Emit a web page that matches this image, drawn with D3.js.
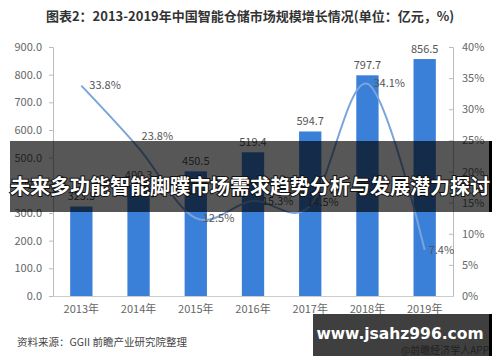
<!DOCTYPE html>
<html>
<head>
<meta charset="utf-8">
<script src="https://cdn.jsdelivr.net/npm/d3@7"></script>
<style>
  body { margin: 0; background: #fff; }
  svg { display: block; font-family: "Noto Sans CJK SC", "Microsoft YaHei", sans-serif; }
</style>
</head>
<body>
<svg id="chart" width="500" height="362"></svg>
<script>
const years = ["2013年", "2014年", "2015年", "2016年", "2017年", "2018年", "2019年"];
const marketSize = [323.5, 400.3, 450.5, 519.4, 594.7, 797.7, 856.5];
const growth = [33.8, 23.8, 12.5, 15.3, 14.5, 34.1, 7.4];
const leftTicks = [0, 100, 200, 300, 400, 500, 600, 700, 800, 900];
const rightTicks = [0, 5, 10, 15, 20, 25, 30, 35, 40];

const svg = d3.select("#chart");
const plotLeft = 53, plotRight = 453, plotTop = 47, plotBottom = 296;

// title
svg.append("text")
  .attr("x", 250).attr("y", 21)
  .attr("text-anchor", "middle")
  .attr("font-size", 13).attr("font-weight", "bold")
  .attr("fill", "#333")
  .text("图表2：2013-2019年中国智能仓储市场规模增长情况(单位：亿元，%)");

const x = d3.scaleBand().domain(years).range([plotLeft, plotRight]).paddingInner(0.61).paddingOuter(0.3);
const y = d3.scaleLinear().domain([0, 900]).range([plotBottom, plotTop]);
const y2 = d3.scaleLinear().domain([0, 40]).range([plotBottom, plotTop]);

// axes
const ax = svg.append("g").attr("transform", `translate(${plotLeft},0)`)
  .call(d3.axisLeft(y).tickValues(leftTicks).tickFormat(d3.format(".1f")).tickSize(4).tickPadding(7));
const ax2 = svg.append("g").attr("transform", `translate(${plotRight},0)`)
  .call(d3.axisRight(y2).tickValues(rightTicks).tickFormat(d => d + "%").tickSize(-4).tickPadding(9));
[ax, ax2].forEach(g => {
  g.select(".domain").attr("stroke", "#bbb");
  g.selectAll(".tick line").attr("stroke", "#bbb");
  g.selectAll("text").attr("fill", "#666").attr("font-size", 11)
    .attr("font-family", "\"Noto Sans CJK SC\", sans-serif");
});

const axx = svg.append("g").attr("transform", `translate(0,${plotBottom})`)
  .call(d3.axisBottom(x).tickSize(0).tickPadding(9));
axx.select(".domain").attr("stroke", "#ccc");
axx.selectAll("text").attr("fill", "#666").attr("font-size", 11)
  .attr("font-family", "\"Noto Sans CJK SC\", sans-serif");

// bars
svg.selectAll(".bar")
  .data(marketSize)
  .enter()
  .append("rect")
  .attr("x", (d, i) => x(years[i]))
  .attr("y", d => y(d))
  .attr("width", x.bandwidth())
  .attr("height", d => plotBottom - y(d))
  .attr("fill", "#3b80d8");

svg.selectAll(".barlabel")
  .data(marketSize)
  .enter()
  .append("text")
  .attr("x", (d, i) => x(years[i]) + x.bandwidth() / 2)
  .attr("y", d => y(d) - 6)
  .attr("text-anchor", "middle")
  .attr("font-size", 11).attr("fill", "#555")
  .text(d => d.toFixed(1));

// growth line
const cx = i => x(years[i]) + x.bandwidth() / 2;
const line = d3.line()
  .x((d, i) => cx(i))
  .y(d => y2(d))
  .curve(d3.curveCatmullRom.alpha(0));
svg.append("path")
  .datum(growth)
  .attr("d", line)
  .attr("fill", "none")
  .attr("stroke", "#7aa4dc")
  .attr("stroke-width", 2);

const pctOffset = [[8, 3], [3, -8], [7, 4], [9, 4], [-3, 0], [6, 3], [4, 4]];
svg.selectAll(".pct")
  .data(growth)
  .enter()
  .append("text")
  .attr("x", (d, i) => cx(i) + pctOffset[i][0])
  .attr("y", (d, i) => y2(d) + pctOffset[i][1])
  .attr("font-size", 11).attr("fill", "#555")
  .text(d => d.toFixed(1) + "%");

// source
svg.append("text")
  .attr("x", 17).attr("y", 346)
  .attr("font-size", 10.5).attr("fill", "#444")
  .text("资料来源：GGII 前瞻产业研究院整理");

// overlay banner
svg.append("rect")
  .attr("x", 10).attr("y", 141).attr("width", 482).attr("height", 71)
  .attr("fill", "#000").attr("opacity", 0.66);
svg.append("rect")
  .attr("x", 489).attr("y", 141).attr("width", 3).attr("height", 71)
  .attr("fill", "#000");
svg.append("text")
  .attr("x", 250).attr("y", 194)
  .attr("text-anchor", "middle")
  .attr("font-size", 20).attr("font-weight", "bold")
  .attr("fill", "#fff")
  .attr("stroke", "#111").attr("stroke-width", 2).attr("paint-order", "stroke")
  .text("未来多功能智能脚蹼市场需求趋势分析与发展潜力探讨");

// site stamp
svg.append("rect")
  .attr("x", 313).attr("y", 314).attr("width", 177).attr("height", 42)
  .attr("fill", "#3f3f3f");
svg.append("rect")
  .attr("x", 489).attr("y", 314).attr("width", 3).attr("height", 42)
  .attr("fill", "#000");
svg.append("text")
  .attr("x", 400).attr("y", 339)
  .attr("text-anchor", "middle")
  .attr("font-size", 15.5).attr("font-weight", "bold")
  .attr("fill", "#fff")
  .attr("font-family", "\"DejaVu Sans\", sans-serif")
  .text("www.jsahz996.com");
svg.append("text")
  .attr("x", 489).attr("y", 354)
  .attr("text-anchor", "end")
  .attr("font-size", 10).attr("fill", "#222")
  .text("@前瞻经济学人APP");
</script>
</body>
</html>
